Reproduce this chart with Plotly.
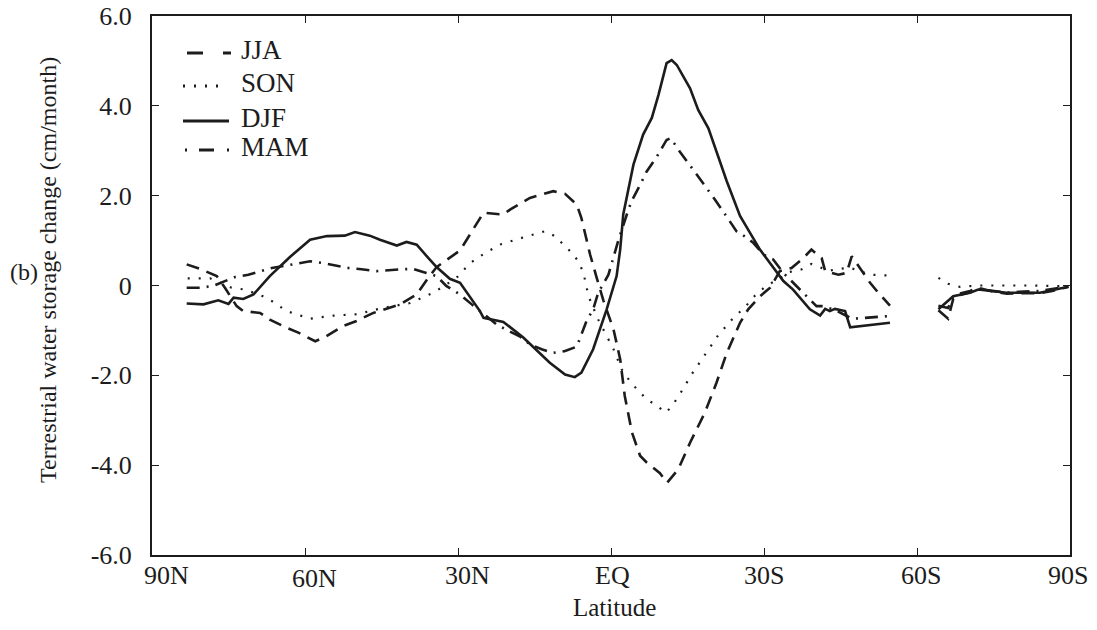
import plotly.graph_objects as go

# Zonal-mean terrestrial water storage change by season (cm/month) vs latitude
# (positive = north). None marks the latitude band with no land data.

djf_lat = [83.2, 79.9, 77.0, 75.0, 74.0, 72.1, 70.1, 66.9, 62.9, 59.0, 55.7, 52.2,
           50.2, 47.3, 45.3, 42.0, 40.1, 38.1, 36.1, 34.2, 31.6, 29.6, 25.7, 25.0,
           21.1, 17.2, 12.0, 9.0, 7.1, 5.8, 3.5, 0.85, -1.1, -1.8, -2.4, -4.4, -6.3,
           -8.0, -9.3, -10.9, -11.9, -12.9, -15.5, -17.1, -19.1, -22.7, -25.3, -29.2,
           -33.8, -35.7, -39.0, -41.0, -42.0, -42.9, -43.9, -45.9, -46.9, -54.7, None,
           -64.2, -66.1, -67.1, -70.4, -72.0, -77.6, -84.1, -89.7]
djf_val = [-0.40, -0.42, -0.33, -0.41, -0.27, -0.30, -0.20, 0.21, 0.64, 1.02, 1.10, 1.11,
           1.19, 1.11, 1.02, 0.89, 0.97, 0.91, 0.65, 0.41, 0.15, 0.06, -0.57, -0.72,
           -0.81, -1.16, -1.72, -1.98, -2.04, -1.94, -1.42, -0.53, 0.21, 0.80, 1.58, 2.69, 3.36,
           3.73, 4.24, 4.95, 5.02, 4.91, 4.39, 3.91, 3.50, 2.32, 1.55, 0.80,
           0.10, -0.09, -0.53, -0.67, -0.52, -0.57, -0.52, -0.57, -0.93, -0.83, None,
           -0.53, -0.35, -0.24, -0.16, -0.09, -0.16, -0.16, -0.03]

jja_lat = [83.2, 80.6, 77.3, 75.7, 73.4, 72.1, 68.8, 66.9, 63.6, 61.3, 58.0, 55.8,
           52.5, 49.9, 46.6, 41.4, 38.1, 36.1, 34.2, 29.6, 27.3, 25.0, 21.1, 19.8,
           15.9, 14.6, 11.3, 9.0, 6.7, 5.8, 4.1, 2.8, 1.5, -0.5, -1.8, -2.7, -4.1,
           -5.7, -7.0, -9.6, -11.0, -13.2, -15.5, -18.4, -20.7, -22.7, -25.3, -26.9,
           -29.2, -31.2, -33.1, -35.4, -37.7, -39.3, -41.3, -42.0, -44.6, -46.2, -47.2,
           -48.8, -50.8, -52.4, -54.7, None,
           -64.2, -66.1, -67.1, -68.4, -70.4, -72.0, -75.0, -77.6, -80.0, -84.1, -86.5, -89.7]
jja_val = [0.47, 0.37, 0.21, -0.05, -0.46, -0.57, -0.61, -0.76, -0.94, -1.05, -1.24, -1.13,
           -0.90, -0.79, -0.61, -0.42, -0.20, 0.13, 0.41, 0.78, 1.20, 1.62, 1.58, 1.69,
           1.95, 1.99, 2.10, 2.04, 1.80, 1.50, 0.69, 0.17, -0.33, -0.98, -1.64, -2.46, -3.27,
           -3.79, -3.94, -4.18, -4.39, -4.09, -3.50, -2.83, -2.16, -1.50, -0.83, -0.53,
           -0.24, -0.05, 0.32, 0.39, 0.61, 0.80, 0.61, 0.32, 0.24, 0.28, 0.65,
           0.39, 0.06, -0.16, -0.45, None,
           -0.55, -0.74, -0.30, -0.18, -0.12, -0.05, -0.14, -0.18, -0.17, -0.17, -0.12, -0.03]

son_lat = [83.0, 78.6, 74.4, 71.8, 67.5, 63.6, 59.0, 54.4, 49.9, 44.7, 39.4, 34.8,
           30.3, 27.6, 25.7, 21.8, 17.5, 15.3, 12.9, 11.0, 9.3, 7.7, 6.4, 5.4, 4.4,
           3.5, 2.5, 1.5, 0.5, -0.5, -2.1, -3.7, -5.4, -7.0, -9.0, -10.8, -12.1, -13.5,
           -15.8, -18.4, -21.0, -22.7, -24.3, -26.0, -28.0, -30.5, -33.0, -35.0, -37.4,
           -39.3, -42.6, -46.7, -50.8, -54.7, None,
           -64.2, -66.1, -68.4, -72.0, -75.5, -82.2, -89.7]
son_val = [0.16, 0.16, -0.05, -0.09, -0.27, -0.57, -0.74, -0.67, -0.64, -0.50, -0.39, -0.16,
           0.17, 0.50, 0.65, 0.91, 1.06, 1.13, 1.21, 1.10, 0.91, 0.73, 0.54, 0.28, -0.24,
           -0.50, -0.76, -0.98, -1.20, -1.42, -1.87, -2.13, -2.35, -2.53, -2.68, -2.83, -2.66, -2.42,
           -1.98, -1.53, -1.11, -0.89, -0.68, -0.52, -0.25, 0.00, 0.15, 0.30, 0.36,
           0.48, 0.33, 0.40, 0.24, 0.22, None,
           0.17, 0.04, -0.03, 0.00, 0.00, 0.00, -0.02]

mam_lat = [83.2, 80.6, 78.0, 73.7, 71.1, 66.5, 63.9, 61.3, 59.0, 56.4, 51.5, 48.9,
           46.0, 41.4, 38.8, 36.2, 34.2, 32.3, 29.6, 27.3, 25.7, 22.4, 20.1, 17.8,
           15.9, 13.6, 11.3, 9.0, 6.7, 5.8, 4.8, 3.5, 2.5, 0.5, -1.4, -3.1, -4.0,
           -5.7, -7.0, -9.0, -10.9, -11.7, -13.5, -16.1, -18.1, -20.4, -22.4, -24.6, -25.3,
           -27.9, -29.9, -31.8, -33.8, -35.7, -38.4, -40.3, -41.6, -44.0, -47.3, -50.1,
           -54.7, None,
           -64.2, -66.1, -67.1, -70.4, -72.0, -75.0, -77.6, -80.0, -84.1, -86.5, -89.7]
mam_val = [-0.05, -0.05, -0.01, 0.19, 0.24, 0.39, 0.44, 0.50, 0.54, 0.50, 0.39, 0.36,
           0.32, 0.36, 0.37, 0.28, 0.21, -0.01, -0.20, -0.42, -0.57, -0.87, -1.01, -1.14,
           -1.31, -1.42, -1.50, -1.46, -1.36, -1.09, -0.79, -0.53, -0.16, 0.24, 0.99, 1.58, 1.87,
           2.24, 2.54, 2.87, 3.24, 3.28, 2.98, 2.58, 2.28, 1.91, 1.58, 1.21, 1.17,
           0.95, 0.69, 0.58, 0.28, 0.06, -0.24, -0.46, -0.46, -0.55, -0.74, -0.72,
           -0.68, None,
           -0.45, -0.50, -0.25, -0.15, -0.08, -0.12, -0.16, -0.14, -0.12, -0.08, -0.02]

x_tick_vals = [90, 60, 30, 0, -30, -60, -90]
x_tick_text = ["90N", "60N", "30N", "EQ", "30S", "60S", "90S"]
y_tick_vals = [6, 4, 2, 0, -2, -4, -6]
y_tick_text = ["6.0", "4.0", "2.0", "0", "-2.0", "-4.0", "-6.0"]

# hand-set nudges (px) of the latitude labels relative to their ticks
x_label_dx = [14, 9, 9, 1, 0, 4, -2]
x_label_dy = [0, -3, 0, 0, 0, 0, 0]

INK = "#1c1c1c"
FONT = "Liberation Serif, Times New Roman, serif"

series = [
    ("JJA", jja_lat, jja_val, "13px,8px", 2.6),
    ("SON", son_lat, son_val, "2px,9px", 2.2),
    ("DJF", djf_lat, djf_val, "solid", 2.6),
    ("MAM", mam_lat, mam_val, "13px,7px,2px,7px", 2.6),
]

fig = go.Figure()
for name, lat, val, dash, w in series:
    fig.add_trace(go.Scatter(
        x=lat, y=val, mode="lines", name=name, showlegend=False,
        connectgaps=False,
        line=dict(color=INK, width=w, dash=dash),
    ))

W, H = 1097, 630
L, R, T, B = 152, 27, 16, 75
PW, PH = W - L - R, H - T - B


def px(x):
    return (x - L) / PW


def py(y):
    return (H - B - y) / PH


# In-plot key: a line sample and a label per season
key_rows = [
    ("JJA", "16px,20px,8px", 187, 232, 50),
    ("SON", "2px,9px", 183, 224, 83),
    ("DJF", "solid", 183, 229, 118),
    ("MAM", "2px,12px,15px,13px,2px", 185, 231, 147),
]
shapes = []
annotations = []
for label, dash, x0, x1, yc in key_rows:
    shapes.append(dict(type="line", xref="paper", yref="paper",
                       x0=px(x0), x1=px(x1), y0=py(yc + 3), y1=py(yc + 3),
                       line=dict(color=INK, width=2.8, dash=dash)))
    annotations.append(dict(text=label, xref="paper", yref="paper",
                            x=px(239), y=py(yc), xanchor="left", yanchor="middle",
                            showarrow=False, font=dict(family=FONT, size=27, color=INK)))

# latitude labels under the ticks
for val, txt, dx, dy in zip(x_tick_vals, x_tick_text, x_label_dx, x_label_dy):
    annotations.append(dict(text=txt, xref="x", yref="paper", x=val, y=py(575),
                            xshift=dx, yshift=dy, showarrow=False,
                            xanchor="center", yanchor="middle",
                            font=dict(family=FONT, size=26, color=INK)))

annotations += [
    dict(text="Terrestrial water storage change (cm/month)", xref="paper", yref="paper",
         x=px(48), y=py(270), textangle=-90, showarrow=False,
         xanchor="center", yanchor="middle",
         font=dict(family=FONT, size=24, color=INK)),
    dict(text="(b)", xref="paper", yref="paper", x=px(24), y=py(272),
         showarrow=False, xanchor="center", yanchor="middle",
         font=dict(family=FONT, size=24, color=INK)),
    dict(text="Latitude", xref="paper", yref="paper", x=px(614), y=py(607),
         showarrow=False, xanchor="center", yanchor="middle",
         font=dict(family=FONT, size=25, color=INK)),
]

axis_common = dict(
    showline=True, linecolor=INK, linewidth=2, mirror="ticks",
    ticks="inside", ticklen=7, tickwidth=1.4, tickcolor=INK,
    showgrid=False, zeroline=False, automargin=False,
    tickfont=dict(family=FONT, size=26, color=INK),
)

fig.update_layout(
    template="none",
    width=W, height=H,
    margin=dict(l=L, r=R, t=T, b=B),
    paper_bgcolor="white", plot_bgcolor="white",
    font=dict(family=FONT, color=INK),
    xaxis=dict(range=[90, -90], tickvals=x_tick_vals, ticktext=x_tick_text,
               showticklabels=False, **axis_common),
    yaxis=dict(range=[-6, 6], tickvals=y_tick_vals, ticktext=y_tick_text,
               ticklabelstandoff=13, **axis_common),
    shapes=shapes,
    annotations=annotations,
)

fig.write_html("out.html")
